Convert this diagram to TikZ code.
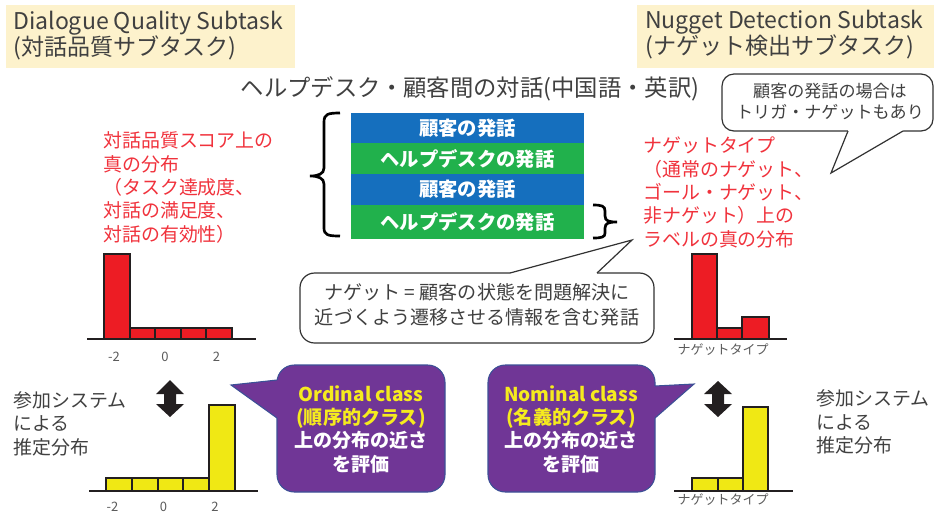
\documentclass[tikz,border=0pt]{standalone}
\usepackage{fontspec}
\setmainfont{Noto Sans CJK JP}
\definecolor{cream}{RGB}{253,242,204}
\definecolor{txt}{RGB}{64,64,64}
\definecolor{redtxt}{RGB}{240,50,60}
\definecolor{barred}{RGB}{237,28,36}
\definecolor{baryel}{RGB}{240,232,20}
\definecolor{barline}{RGB}{35,31,32}
\definecolor{ublue}{RGB}{21,111,190}
\definecolor{ugreen}{RGB}{33,177,76}
\definecolor{purp}{RGB}{112,54,150}
\definecolor{purpline}{RGB}{60,80,150}
\definecolor{ytxt}{RGB}{245,235,30}
\definecolor{lbl}{RGB}{90,90,90}
\definecolor{cline}{RGB}{50,50,50}
\tikzset{
  titletxt/.style={font=\fontsize{17.3}{19.5}\selectfont, text=txt, align=left, inner sep=0pt},
  headtxt/.style={font=\fontsize{17.5}{19.5}\selectfont, text=txt, inner sep=0pt},
  redt/.style={font=\fontsize{14.2}{17.5}\selectfont, text=redtxt, align=left, inner sep=0pt},
  graytxt/.style={font=\fontsize{14.2}{17.6}\selectfont, text=txt, align=left, inner sep=0pt},
  calltxt/.style={font=\fontsize{12.8}{15.75}\selectfont, text=txt, align=center, inner sep=0pt},
  midtxt/.style={font=\fontsize{14.3}{18.75}\selectfont, text=txt, align=center, inner sep=0pt},
  ubox/.style={minimum width=174.75pt, inner sep=0pt, text=white, font=\fontsize{14.5}{16}\selectfont\bfseries},
  purptxt/.style={font=\fontsize{14.3}{17.5}\selectfont\bfseries, text=white, align=center, inner sep=0pt},
  bar/.style={draw=barline, line width=1.5pt},
  axisline/.style={draw=barline, line width=1.8pt},
  lab/.style={font=\fontsize{9.75}{11}\selectfont, text=lbl, inner sep=0pt},
  calloutline/.style={draw=cline, line width=0.9pt},
  purpedge/.style={draw=purpline, line width=0.8pt},
  brace/.style={draw=black, line width=2pt},
}
\begin{document}
\begin{tikzpicture}[x=0.75pt,y=-0.75pt]
\useasboundingbox (0,0) rectangle (934,512);

% title boxes
\fill[cream] (6,5) rectangle (295,68);
\node[titletxt, anchor=west] (tl) at (13,36) {Dialogue Quality Subtask\\(対話品質サブタスク)};
\fill[cream] (637,5) rectangle (934,68);
\node[titletxt, anchor=west] (tr) at (645,35) {Nugget Detection Subtask\\(ナゲット検出サブタスク)};

% heading
\node[headtxt] (head) at (470,89) {ヘルプデスク・顧客間の対話(中国語・英訳)};

% top-right callout
\draw[calloutline, fill=white, rounded corners=9pt] (722,74) rectangle (933,131);
\fill[white] (848,128) -- (848,131) -- (831,173) -- (903,131) -- (903,128) -- cycle;
\draw[calloutline] (848,131) -- (831,173) -- (903,131);
\node[calltxt] (cr) at (830,101.5) {顧客の発話の場合は\\トリガ・ナゲットもあり};

% utterance stack
\node[ubox, fill=ublue, minimum height=22.8pt] (u1) at (467.5,128.2) {顧客の発話};
\node[ubox, fill=ugreen, minimum height=23.1pt] (u2) at (467.5,158.7) {ヘルプデスクの発話};
\node[ubox, fill=ublue, minimum height=23.4pt] (u3) at (467.5,189.5) {顧客の発話};
\node[ubox, fill=ugreen, minimum height=25.5pt] (u4) at (467.5,222) {ヘルプデスクの発話};

% braces
\draw[brace] (340,113) .. controls (328,113) and (324,114) .. (324,122) -- (324,168)
  .. controls (324,174) and (318,176) .. (310,176)
  .. controls (318,176) and (324,178) .. (324,184) -- (324,228)
  .. controls (324,235) and (328,236) .. (340,236);
\draw[brace] (593,205) .. controls (602,205) and (605,206) .. (605,211) -- (605,216)
  .. controls (605,221) and (609,222) .. (617,222)
  .. controls (609,222) and (605,223) .. (605,228) -- (605,233)
  .. controls (605,237) and (602,238) .. (593,238);

% red texts
\node[redt, anchor=west] (rl) at (103,187.5) {対話品質スコア上の\\真の分布\\（タスク達成度、\\対話の満足度、\\対話の有効性）};
\node[redt, anchor=west] (rr) at (643,192.5) {ナゲットタイプ\\（通常のナゲット、\\ゴール・ナゲット、\\非ナゲット）上の\\ラベルの真の分布};

% middle callout
\draw[calloutline, fill=white, rounded corners=11pt] (300,273) rectangle (654,343);
\fill[white] (510,276) -- (510,273) -- (632,240) -- (597,273) -- (597,276) -- cycle;
\draw[calloutline] (510,273) -- (632,240) -- (597,273);
\node[midtxt] (cm) at (477,304.5) {ナゲット = 顧客の状態を問題解決に\\近づくよう遷移させる情報を含む発話};

% left red histogram
\draw[bar, fill=barred] (104,339) rectangle (129.5,254);
\draw[bar, fill=barred] (129.5,339) rectangle (155,328);
\draw[bar, fill=barred] (155,339) rectangle (180.5,328);
\draw[bar, fill=barred] (180.5,339) rectangle (206,328);
\draw[bar, fill=barred] (206,339) rectangle (231.5,328);
\draw[axisline] (87,339) -- (256,339);
\node[lab] (l1) at (114,357) {-2};
\node[lab] (l2) at (165,357) {0};
\node[lab] (l3) at (216.5,357) {2};

% left yellow histogram
\draw[bar, fill=baryel] (106,491) rectangle (131.8,478);
\draw[bar, fill=baryel] (131.8,491) rectangle (157.6,478);
\draw[bar, fill=baryel] (157.6,491) rectangle (183.4,478);
\draw[bar, fill=baryel] (183.4,491) rectangle (209.2,478);
\draw[bar, fill=baryel] (209.2,491) rectangle (235,405);
\draw[axisline] (89,491) -- (258,491);
\node[lab] (l4) at (112.5,507) {-2};
\node[lab] (l5) at (163.5,507) {0};
\node[lab] (l6) at (215,507) {2};

% right red histogram
\draw[bar, fill=barred] (692,339) rectangle (717,254);
\draw[bar, fill=barred] (717,339) rectangle (742,328);
\draw[bar, fill=barred] (742,339) rectangle (769,317);
\draw[axisline] (674,339) -- (787,339);
\node[lab] (l7) at (723,350) {ナゲットタイプ};

% right yellow histogram
\draw[bar, fill=baryel] (692,491) rectangle (718,478);
\draw[bar, fill=baryel] (718,491) rectangle (743,478);
\draw[bar, fill=baryel] (743,491) rectangle (768,407);
\draw[axisline] (674,491) -- (793,491);
\node[lab] (l8) at (723,500) {ナゲットタイプ};

% double arrows
\fill[barline] (170,380) -- (184,394) -- (176,394) -- (176,404) -- (184,404) -- (170,417)
  -- (156,404) -- (164,404) -- (164,394) -- (156,394) -- cycle;
\fill[barline] (718,381) -- (732,394) -- (724,394) -- (724,404) -- (732,404) -- (718,417)
  -- (704,404) -- (712,404) -- (712,394) -- (704,394) -- cycle;

% participant labels
\node[graytxt, anchor=west] (pl) at (13,423.5) {参加システム\\による\\推定分布};
\node[graytxt, anchor=west] (pr) at (816,422) {参加システム\\による\\推定分布};

% purple callouts
\draw[purpedge, fill=purp, rounded corners=13pt] (277,365) rectangle (445,492);
\fill[purp] (280,380) -- (277,380) -- (231,385) -- (277,418) -- (280,418) -- cycle;
\draw[purpedge] (277,380) -- (231,385) -- (277,418);
\node[purptxt] (po) at (361,429) {\textcolor{ytxt}{Ordinal class}\\\textcolor{ytxt}{(順序的クラス)}\\上の分布の近さ\\を評価};

\draw[purpedge, fill=purp, rounded corners=13pt] (488,365) rectangle (655,492);
\fill[purp] (652,386) -- (655,386) -- (694,384) -- (655,418) -- (652,418) -- cycle;
\draw[purpedge] (655,386) -- (694,384) -- (655,418);
\node[purptxt] (pn) at (571,429) {\textcolor{ytxt}{Nominal class}\\\textcolor{ytxt}{(名義的クラス)}\\上の分布の近さ\\を評価};
\end{tikzpicture}
\end{document}
